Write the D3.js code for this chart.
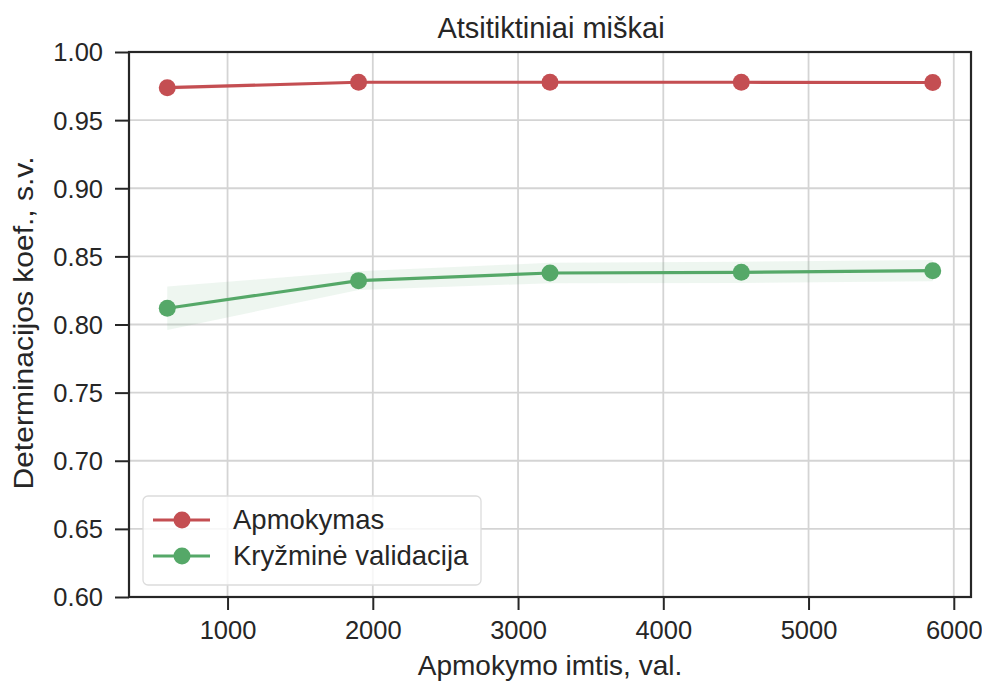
<!DOCTYPE html>
<html>
<head>
<meta charset="utf-8">
<script src="https://cdn.jsdelivr.net/npm/d3@7"></script>
<style>
  html, body { margin: 0; padding: 0; background: #fff; }
  svg { display: block; font-family: "Liberation Sans", Arial, sans-serif; }
</style>
</head>
<body>
<svg id="chart" width="982" height="684"></svg>
<script>
// Learning curve: random forest, R² vs. training sample size
const trainSizes = [585, 1902, 3220, 4537, 5855];
const trainMean = [0.9738, 0.9778, 0.9778, 0.9778, 0.9776];
const trainStd  = [0.0015, 0.0010, 0.0010, 0.0010, 0.0010];
const cvMean    = [0.8119, 0.8322, 0.8378, 0.8383, 0.8395];
const cvStd     = [0.0160, 0.0068, 0.0075, 0.0078, 0.0078];
const xTicks = [1000, 2000, 3000, 4000, 5000, 6000];
const yTicks = [0.60, 0.65, 0.70, 0.75, 0.80, 0.85, 0.90, 0.95, 1.00];
const seriesNames = ["Apmokymas", "Kryžminė validacija"];
const seriesColors = ["#C44E52", "#55A868"];

const svg = d3.select("#chart");
const m = { left: 129, right: 971, top: 52, bottom: 597 };
const ink = "#262626";

const span = trainSizes[trainSizes.length - 1] - trainSizes[0];
const x = d3.scaleLinear()
  .domain([trainSizes[0] - 0.05 * span, trainSizes[trainSizes.length - 1] + 0.05 * span])
  .range([m.left, m.right]);
const y = d3.scaleLinear().domain([0.60, 1.00]).range([m.bottom, m.top]);

// grid
const grid = svg.append("g").attr("stroke", "#d4d4d4").attr("stroke-width", 1.8);
xTicks.forEach(t => grid.append("line")
  .attr("x1", x(t)).attr("x2", x(t)).attr("y1", m.top).attr("y2", m.bottom));
yTicks.forEach(t => grid.append("line")
  .attr("x1", m.left).attr("x2", m.right).attr("y1", y(t)).attr("y2", y(t)));

// std bands and lines
const series = [
  { mean: trainMean, std: trainStd, color: seriesColors[0] },
  { mean: cvMean, std: cvStd, color: seriesColors[1] }
];
const area = d3.area()
  .x((d, i) => x(trainSizes[i]))
  .y0(d => y(d[0] - d[1]))
  .y1(d => y(d[0] + d[1]));
const line = d3.line().x((d, i) => x(trainSizes[i])).y(d => y(d));

series.forEach(s => {
  svg.append("path")
    .datum(s.mean.map((v, i) => [v, s.std[i]]))
    .attr("d", area)
    .attr("fill", s.color).attr("fill-opacity", 0.1);
});
series.forEach(s => {
  svg.append("path").datum(s.mean).attr("d", line)
    .attr("fill", "none").attr("stroke", s.color).attr("stroke-width", 3.2);
  svg.append("g").selectAll("circle").data(s.mean).join("circle")
    .attr("cx", (d, i) => x(trainSizes[i])).attr("cy", d => y(d))
    .attr("r", 8.5).attr("fill", s.color);
});

// axes
const xAxis = d3.axisBottom(x).tickValues(xTicks).tickFormat(d3.format("d")).tickSize(13);
const yAxis = d3.axisLeft(y).tickValues(yTicks).tickFormat(d3.format(".2f")).tickSize(14);
const gx = svg.append("g").attr("transform", `translate(0,${m.bottom})`).call(xAxis);
const gy = svg.append("g").attr("transform", `translate(${m.left},0)`).call(yAxis);
[gx, gy].forEach(g => {
  g.select(".domain").remove();
  g.attr("font-size", null).attr("font-family", null);
  g.selectAll(".tick line").attr("stroke", ink).attr("stroke-width", 2);
  g.selectAll(".tick text").attr("fill", ink).attr("font-size", 25.5);
});
gx.selectAll(".tick text").attr("y", 42).attr("dy", 0);
gy.selectAll(".tick text").attr("x", -26).attr("dy", "0.35em");

// frame
svg.append("rect")
  .attr("x", m.left).attr("y", m.top)
  .attr("width", m.right - m.left).attr("height", m.bottom - m.top)
  .attr("fill", "none").attr("stroke", ink).attr("stroke-width", 2.2);

// titles
svg.append("text").attr("x", 551).attr("y", 38)
  .attr("text-anchor", "middle").attr("font-size", 29).attr("fill", ink)
  .text("Atsitiktiniai miškai");
svg.append("text").attr("x", 550).attr("y", 675)
  .attr("text-anchor", "middle").attr("font-size", 28).attr("fill", ink)
  .text("Apmokymo imtis, val.");
svg.append("text")
  .attr("transform", "translate(33,323) rotate(-90)")
  .attr("text-anchor", "middle").attr("font-size", 27).attr("fill", ink)
  .attr("textLength", 333).attr("lengthAdjust", "spacingAndGlyphs")
  .text("Determinacijos koef., s.v.");

// legend
const lg = svg.append("g").attr("transform", "translate(143,496)");
lg.append("rect").attr("width", 338).attr("height", 89).attr("rx", 5)
  .attr("fill", "#fff").attr("fill-opacity", 0.8)
  .attr("stroke", "#dcdcdc").attr("stroke-width", 1.3);
seriesNames.forEach((name, i) => {
  const cy = 24 + i * 36;
  lg.append("line").attr("x1", 10).attr("x2", 67).attr("y1", cy).attr("y2", cy)
    .attr("stroke", seriesColors[i]).attr("stroke-width", 3.2);
  lg.append("circle").attr("cx", 39).attr("cy", cy).attr("r", 8.5).attr("fill", seriesColors[i]);
  lg.append("text").attr("x", 90).attr("y", cy + 9).attr("font-size", 27.5)
    .attr("fill", ink).text(name);
});
</script>
</body>
</html>
